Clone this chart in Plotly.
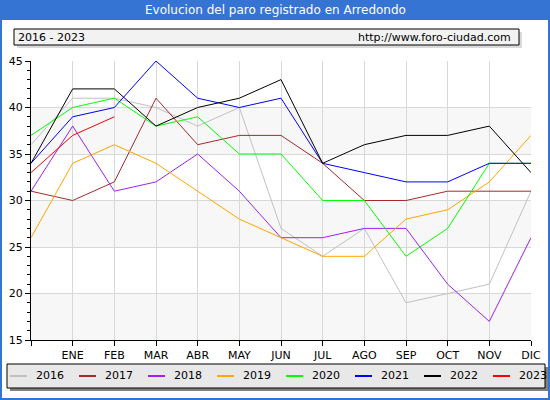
import plotly.graph_objects as go

# Paro registrado en Arredondo, 2016-2023
# posicion 0 = diciembre del año anterior (sin etiqueta)
meses = ["", "ENE", "FEB", "MAR", "ABR", "MAY", "JUN", "JUL", "AGO", "SEP", "OCT", "NOV", "DIC"]

y2016 = [36, 41, 41, 40, 38, 40, 27, 24, 27, 19, 20, 21, 31]
y2017 = [31, 30, 32, 41, 36, 37, 37, 34, 30, 30, 31, 31, 31]
y2018 = [31, 38, 31, 32, 35, 31, 26, 26, 27, 27, 21, 17, 26]
y2019 = [26, 34, 36, 34, 31, 28, 26, 24, 24, 28, 29, 32, 37]
y2020 = [37, 40, 41, 38, 39, 35, 35, 30, 30, 24, 27, 34, 34]
y2021 = [34, 39, 40, 45, 41, 40, 41, 34, 33, 32, 32, 34, 34]
y2022 = [34, 42, 42, 38, 40, 41, 43, 34, 36, 37, 37, 38, 33]
y2023 = [33, 37, 39]

series = [
    ("2016", y2016, "#c0c0c0"),
    ("2017", y2017, "#a52a2a"),
    ("2018", y2018, "#a020f0"),
    ("2019", y2019, "#ffa500"),
    ("2020", y2020, "#00ff00"),
    ("2021", y2021, "#0000ff"),
    ("2022", y2022, "#000000"),
    ("2023", y2023, "#ff0000"),
]

W, H = 550, 400
L, R, T, B = 31, 19, 61, 60
FONT = "DejaVu Sans"
AZUL = "#3674d4"


# pixeles -> coordenadas paper
def px(x):
    return (x - L) / (W - L - R)


def py(y):
    return (H - B - y) / (H - T - B)


fig = go.Figure()
for nombre, vals, color in series:
    fig.add_trace(go.Scatter(x=list(range(len(vals))), y=vals, mode="lines", name=nombre,
                             line=dict(color=color, width=1), showlegend=False))

shapes = []
# bandas de fondo
for y0 in (15, 25, 35):
    shapes.append(dict(type="rect", xref="paper", yref="y", x0=0, x1=1, y0=y0, y1=y0 + 5,
                       fillcolor="#f7f7f7", line_width=0, layer="below"))
# marco y barra de titulo
shapes.append(dict(type="rect", xref="paper", yref="paper", x0=px(0), x1=px(W), y0=py(0), y1=py(20),
                   fillcolor=AZUL, line_width=0))
shapes.append(dict(type="rect", xref="paper", yref="paper", x0=px(1), x1=px(W - 1), y0=py(1), y1=py(H - 1),
                   line=dict(color=AZUL, width=2)))
# caja del subtitulo
shapes.append(dict(type="rect", xref="paper", yref="paper", x0=px(17), x1=px(522), y0=py(32), y1=py(48),
                   fillcolor="#dadada", line_width=0))
shapes.append(dict(type="rect", xref="paper", yref="paper", x0=px(14), x1=px(519), y0=py(29), y1=py(45),
                   fillcolor="#f2f2f2", line=dict(color="black", width=1)))
# caja de la leyenda
shapes.append(dict(type="rect", xref="paper", yref="paper", x0=px(10), x1=px(548), y0=py(367), y1=py(391),
                   fillcolor="#808080", line_width=0))
shapes.append(dict(type="rect", xref="paper", yref="paper", x0=px(7), x1=px(545), y0=py(364), y1=py(388),
                   fillcolor="#e8e8e8", line=dict(color="black", width=1)))

annotations = [
    dict(text="Evolucion del paro registrado en Arredondo", xref="paper", yref="paper",
         x=px(W / 2), y=py(10), xanchor="center", yanchor="middle", showarrow=False,
         font=dict(family=FONT, size=12, color="white")),
    dict(text="2016 - 2023", xref="paper", yref="paper", x=px(16), y=py(37),
         xanchor="left", yanchor="middle", showarrow=False,
         font=dict(family=FONT, size=11, color="black")),
    dict(text="http://www.foro-ciudad.com", xref="paper", yref="paper", x=px(513), y=py(37),
         xanchor="right", yanchor="middle", showarrow=False,
         font=dict(family=FONT, size=11, color="black")),
]

# leyenda dibujada a mano
for i, (nombre, vals, color) in enumerate(series):
    x0 = 10 + 69 * i
    shapes.append(dict(type="line", xref="paper", yref="paper", x0=px(x0), x1=px(x0 + 17),
                       y0=py(376), y1=py(376), line=dict(color=color, width=2)))
    annotations.append(dict(text=nombre, xref="paper", yref="paper", x=px(x0 + 24), y=py(376),
                            xanchor="left", yanchor="middle", showarrow=False,
                            font=dict(family=FONT, size=11, color="black")))

fig.update_layout(
    width=W, height=H,
    margin=dict(l=L, r=R, t=T, b=B),
    paper_bgcolor="white", plot_bgcolor="white",
    font=dict(family=FONT, size=11, color="black"),
    shapes=shapes, annotations=annotations,
    xaxis=dict(range=[0, 12], tickvals=list(range(13)), ticktext=meses,
               showgrid=True, gridcolor="#d8d8d8", gridwidth=1,
               showline=True, linecolor="black", linewidth=1,
               ticks="outside", ticklen=5, tickcolor="black", zeroline=False,
               automargin=False, fixedrange=True),
    yaxis=dict(range=[15, 45], dtick=5, showgrid=True, gridcolor="#d8d8d8", gridwidth=1,
               showline=True, linecolor="black", linewidth=1,
               ticks="outside", ticklen=5, tickcolor="black", zeroline=False,
               minor=dict(dtick=1, ticks="outside", ticklen=3, tickcolor="black", showgrid=False),
               automargin=False, fixedrange=True),
)

# sin margen del body para que la figura ocupe toda la ventana
fig.write_html("out.html", config={"displayModeBar": False},
               post_script="document.body.style.margin='0';")
